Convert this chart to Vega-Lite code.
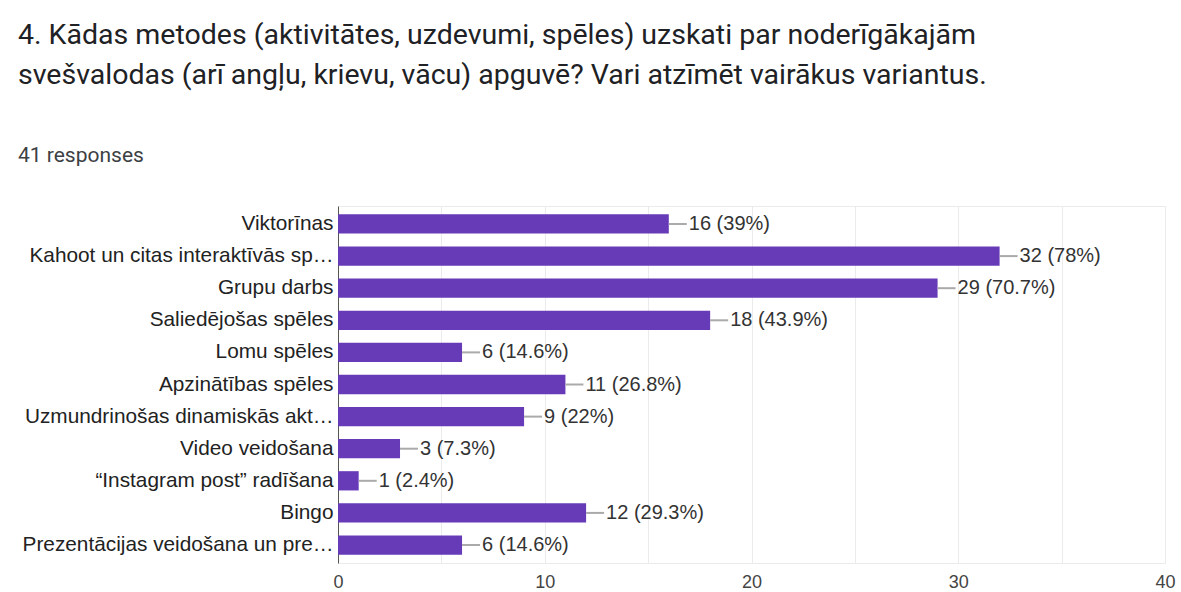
{
  "$schema": "https://vega.github.io/schema/vega-lite/v6.json",
  "width": 827,
  "height": 357,
  "autosize": {"type": "none"},
  "padding": {"left": 338, "top": 206, "right": 16, "bottom": 29},
  "background": "white",
  "title": {
    "text": ["4. Kādas metodes (aktivitātes, uzdevumi, spēles) uzskati par noderīgākajām", "svešvalodas (arī angļu, krievu, vācu) apguvē? Vari atzīmēt vairākus variantus."],
    "subtitle": "41 responses",
    "anchor": "start",
    "frame": "group",
    "dx": -320,
    "font": "Roboto",
    "fontSize": 28.5,
    "fontWeight": "normal",
    "color": "#202124",
    "lineHeight": 40,
    "subtitleFont": "Roboto",
    "subtitleFontSize": 21,
    "subtitleColor": "#3c4043",
    "subtitlePadding": 56,
    "offset": 40
  },
  "config": {
    "view": {"stroke": "#ebebeb"},
    "font": "Liberation Sans"
  },
  "data": {
    "values": [
      {"option": "Viktorīnas", "count": 16, "label": "16 (39%)"},
      {"option": "Kahoot un citas interaktīvās sp…", "count": 32, "label": "32 (78%)"},
      {"option": "Grupu darbs", "count": 29, "label": "29 (70.7%)"},
      {"option": "Saliedējošas spēles", "count": 18, "label": "18 (43.9%)"},
      {"option": "Lomu spēles", "count": 6, "label": "6 (14.6%)"},
      {"option": "Apzinātības spēles", "count": 11, "label": "11 (26.8%)"},
      {"option": "Uzmundrinošas dinamiskās akt…", "count": 9, "label": "9 (22%)"},
      {"option": "Video veidošana", "count": 3, "label": "3 (7.3%)"},
      {"option": "“Instagram post” radīšana", "count": 1, "label": "1 (2.4%)"},
      {"option": "Bingo", "count": 12, "label": "12 (29.3%)"},
      {"option": "Prezentācijas veidošana un pre…", "count": 6, "label": "6 (14.6%)"}
    ]
  },
  "encoding": {
    "y": {
      "field": "option",
      "type": "nominal",
      "sort": null,
      "scale": {"paddingInner": 0.4, "paddingOuter": 0.26},
      "axis": {
        "title": null,
        "ticks": false,
        "domain": true,
        "domainColor": "#555555",
        "labelFontSize": 20.8,
        "labelColor": "#222222",
        "labelPadding": 5,
        "labelLimit": 500,
        "grid": false
      }
    },
    "x": {
      "field": "count",
      "type": "quantitative",
      "scale": {"domain": [0, 40], "nice": false},
      "axis": {
        "title": null,
        "values": [0, 5, 10, 15, 20, 25, 30, 35, 40],
        "labelExpr": "datum.value % 10 == 0 ? datum.label : ''",
        "labelOverlap": false,
        "labelFlush": false,
        "grid": true,
        "gridColor": "#ebebeb",
        "ticks": false,
        "domain": false,
        "labelFontSize": 18,
        "labelColor": "#444444",
        "labelPadding": 10
      }
    }
  },
  "layer": [
    {"mark": {"type": "bar", "color": "#673ab7"}},
    {
      "mark": {"type": "rule", "color": "#aaaaaa", "strokeWidth": 2, "x2Offset": 18},
      "encoding": {"x2": {"field": "count"}}
    },
    {
      "mark": {"type": "text", "align": "left", "dx": 20, "fontSize": 20, "color": "#333333"},
      "encoding": {"text": {"field": "label"}}
    }
  ]
}
